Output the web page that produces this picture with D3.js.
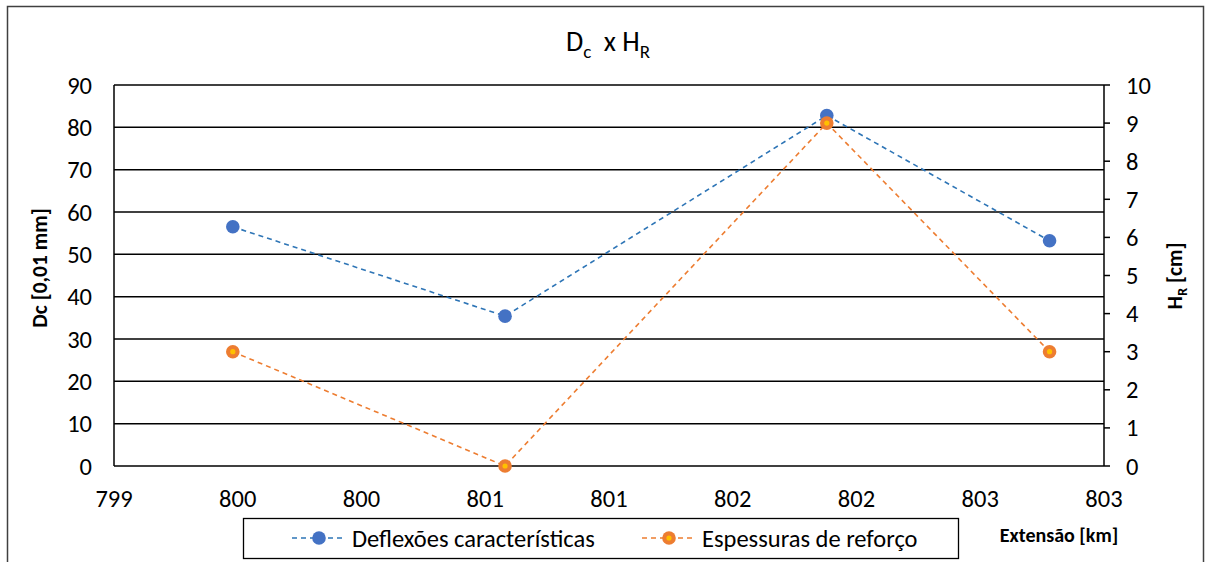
<!DOCTYPE html>
<html>
<head>
<meta charset="utf-8">
<script src="https://cdn.jsdelivr.net/npm/d3@7"></script>
<style>
  body { margin: 0; background: #fff; }
  svg { display: block; font-family: Carlito, Lato, "Open Sans", sans-serif; }
  .tick-label { font-size: 24.5px; fill: #000; }
  .axis-title { font-size: 21.5px; font-weight: bold; fill: #000; }
</style>
</head>
<body>
<svg id="chart"></svg>
<script>
// chart data
const km = [799.48, 800.58, 801.88, 802.78]
const deflexoes = [56.5, 35.4, 82.8, 53.2]
const espessuras = [3, 0, 9, 3]
const xTicks = [799, 799.5, 800, 800.5, 801, 801.5, 802, 802.5, 803]
const xTickLabels = ["799", "800", "800", "801", "801", "802", "802", "803", "803"]
const leftTicks = [0, 10, 20, 30, 40, 50, 60, 70, 80, 90]
const rightTicks = [0, 1, 2, 3, 4, 5, 6, 7, 8, 9, 10]
const seriesNames = ["Deflexões características", "Espessuras de reforço"]

const W = 1206, H = 562
const margin = { left: 114, top: 85, right: 102, bottom: 96 }
const width = W - margin.left - margin.right
const height = H - margin.top - margin.bottom

const blueLine = "#2E75B6", blueDot = "#4472C4"
const orange = "#ED7D31", yellow = "#FFC000"

const svg = d3.select("#chart").attr("width", W).attr("height", H)

// outer chart border
svg.append("rect")
	.attr("x", 7.5).attr("y", 6.5)
	.attr("width", 1196).attr("height", 570)
	.attr("fill", "none").attr("stroke", "#404040").attr("stroke-width", 1.5)

const g = svg.append("g").attr("transform", "translate(" + margin.left + "," + margin.top + ")")

const x = d3.scaleLinear().domain([799, 803]).range([0, width])
const yL = d3.scaleLinear().domain([0, 90]).range([height, 0])
const yR = d3.scaleLinear().domain([0, 10]).range([height, 0])

// gridlines
g.selectAll(".grid")
	.data(leftTicks)
	.enter().append("line")
	.attr("x1", 0).attr("x2", width)
	.attr("y1", d => yL(d)).attr("y2", d => yL(d))
	.attr("stroke", "#000").attr("stroke-width", 1.5)

// plot frame left / right
g.append("line").attr("x1", 0).attr("x2", 0).attr("y1", 0).attr("y2", height)
	.attr("stroke", "#000").attr("stroke-width", 1.5)
g.append("line").attr("x1", width).attr("x2", width).attr("y1", 0).attr("y2", height)
	.attr("stroke", "#000").attr("stroke-width", 1.5)

// left tick labels
g.selectAll(".ly")
	.data(leftTicks)
	.enter().append("text")
	.attr("class", "tick-label")
	.attr("x", -22).attr("y", d => yL(d))
	.attr("dy", "0.35em")
	.attr("text-anchor", "end")
	.text(d => d)

// right axis ticks + labels
g.selectAll(".rt")
	.data(rightTicks)
	.enter().append("line")
	.attr("x1", width).attr("x2", width + 6)
	.attr("y1", d => yR(d)).attr("y2", d => yR(d))
	.attr("stroke", "#000").attr("stroke-width", 1.5)

g.selectAll(".ry")
	.data(rightTicks)
	.enter().append("text")
	.attr("class", "tick-label")
	.attr("x", width + 22).attr("y", d => yR(d))
	.attr("dy", "0.35em")
	.text(d => d)

// bottom tick labels
g.selectAll(".xl")
	.data(xTicks)
	.enter().append("text")
	.attr("class", "tick-label")
	.attr("x", d => x(d)).attr("y", height + 32)
	.attr("dy", "0.35em")
	.attr("text-anchor", "middle")
	.text((d, i) => xTickLabels[i])

// series lines
const lineL = d3.line().x((d, i) => x(km[i])).y(d => yL(d))
const lineR = d3.line().x((d, i) => x(km[i])).y(d => yR(d))

g.append("path").datum(deflexoes)
	.attr("d", lineL).attr("fill", "none")
	.attr("stroke", blueLine).attr("stroke-width", 1.6).attr("stroke-dasharray", "5,4")

g.append("path").datum(espessuras)
	.attr("d", lineR).attr("fill", "none")
	.attr("stroke", orange).attr("stroke-width", 1.6).attr("stroke-dasharray", "5,4")

// markers
g.selectAll(".bd")
	.data(deflexoes)
	.enter().append("circle")
	.attr("cx", (d, i) => x(km[i])).attr("cy", d => yL(d))
	.attr("r", 6.8).attr("fill", blueDot)

g.selectAll(".od")
	.data(espessuras)
	.enter().append("circle")
	.attr("cx", (d, i) => x(km[i])).attr("cy", d => yR(d))
	.attr("r", 6.8).attr("fill", orange)

g.selectAll(".oy")
	.data(espessuras)
	.enter().append("circle")
	.attr("cx", (d, i) => x(km[i])).attr("cy", d => yR(d))
	.attr("r", 2.6).attr("fill", yellow)

// title  Dc x HR
const title = svg.append("text")
	.attr("x", 608).attr("y", 51)
	.attr("text-anchor", "middle")
	.style("font-size", "28px").style("fill", "#000")
title.append("tspan").text("D")
title.append("tspan").attr("dy", 7).style("font-size", "19px").text("c")
title.append("tspan").attr("dy", -7).attr("xml:space", "preserve").text("  x H")
title.append("tspan").attr("dy", 7).style("font-size", "19px").text("R")

// axis titles
svg.append("text")
	.attr("class", "axis-title")
	.attr("transform", "translate(47,268) rotate(-90)")
	.attr("text-anchor", "middle")
	.text("Dc [0,01 mm]")

const rt = svg.append("text")
	.attr("class", "axis-title")
	.attr("transform", "translate(1182,276) rotate(-90)")
	.attr("text-anchor", "middle")
rt.append("tspan").text("H")
rt.append("tspan").attr("dy", 5).style("font-size", "14px").text("R")
rt.append("tspan").attr("dy", -5).text(" [cm]")

svg.append("text")
	.attr("class", "axis-title")
	.attr("x", 1059).attr("y", 542)
	.attr("text-anchor", "middle")
	.style("font-size", "20px")
	.text("Extensão [km]")

// legend
const legend = svg.append("g")
legend.append("rect")
	.attr("x", 243.5).attr("y", 518.5)
	.attr("width", 715).attr("height", 40)
	.attr("fill", "#fff").attr("stroke", "#000").attr("stroke-width", 1.3)

const legendX = [292, 642]
const legendColors = [[blueLine, blueDot, null], [orange, orange, yellow]]
seriesNames.forEach(function (name, i) {
	const lx = legendX[i], ly = 538
	const c = legendColors[i]
	legend.append("line")
		.attr("x1", lx).attr("x2", lx + 52)
		.attr("y1", ly).attr("y2", ly)
		.attr("stroke", c[0]).attr("stroke-width", 1.6).attr("stroke-dasharray", "5,4")
	legend.append("circle").attr("cx", lx + 27).attr("cy", ly).attr("r", 6.8).attr("fill", c[1])
	if (c[2]) legend.append("circle").attr("cx", lx + 27).attr("cy", ly).attr("r", 2.6).attr("fill", c[2])
	legend.append("text")
		.attr("class", "tick-label")
		.attr("x", lx + 60).attr("y", ly)
		.attr("dy", "0.35em")
		.text(name)
})
</script>
</body>
</html>
